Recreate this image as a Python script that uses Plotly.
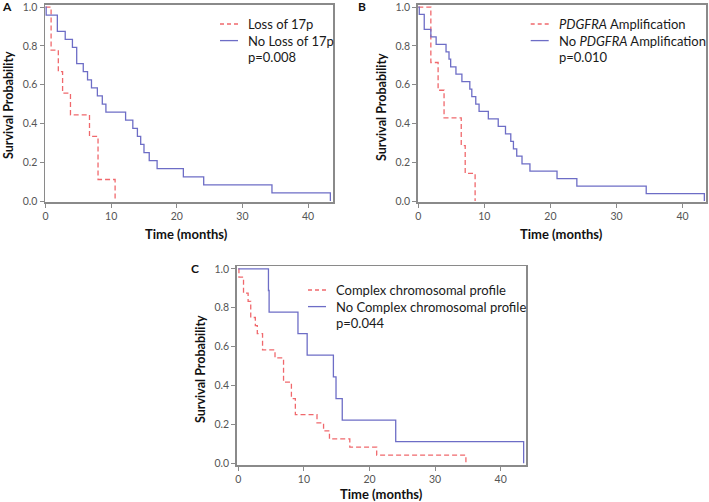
import plotly.graph_objects as go

# ---------------- data ----------------
# Panel A: Loss of 17p
a_loss_t = [0, 0.85, 1.95, 2.6, 3.8, 6.7, 8.0, 10.6]
a_loss_s = [1.0, 0.778, 0.667, 0.556, 0.444, 0.333, 0.111, 0.0]
a_noloss_t = [0, 0.1, 1.8, 3.0, 4.1, 4.75, 5.75, 6.4, 7.0, 7.9, 8.65, 9.2, 12.2, 13.3,
              14.0, 14.5, 15.0, 15.8, 17.0, 21.0, 24.1, 34.5, 43.4]
a_noloss_s = [1.0, 0.958, 0.875, 0.833, 0.792, 0.708, 0.667, 0.625, 0.583, 0.542, 0.5,
              0.458, 0.417, 0.375, 0.333, 0.292, 0.25, 0.208, 0.167, 0.125, 0.083, 0.042, 0.0]

# Panel B: PDGFRA amplification
b_amp_t = [0, 1.9, 3.0, 3.9, 6.5, 7.1, 8.6]
b_amp_s = [1.0, 0.714, 0.571, 0.429, 0.286, 0.143, 0.0]
b_noamp_t = [0, 0.15, 0.9, 1.9, 2.7, 4.2, 4.65, 4.9, 5.7, 6.6, 7.8, 8.1, 8.7, 9.2, 10.6,
             12.1, 13.2, 14.0, 14.4, 14.9, 15.7, 16.9, 21.0, 24.0, 34.5, 43.3]
b_noamp_s = [1.0, 0.962, 0.885, 0.846, 0.808, 0.769, 0.731, 0.692, 0.654, 0.615, 0.577,
             0.538, 0.5, 0.462, 0.423, 0.385, 0.346, 0.308, 0.269, 0.231, 0.192, 0.154,
             0.115, 0.077, 0.038, 0.0]

# Panel C: complex chromosomal profile
c_cx_t = [0, 0.1, 0.8, 1.5, 1.9, 2.6, 2.9, 3.7, 5.6, 6.9, 8.1, 8.7, 12.0, 13.0, 13.9,
          17.0, 21.1, 34.7]
c_cx_s = [1.0, 0.958, 0.875, 0.833, 0.75, 0.708, 0.667, 0.583, 0.542, 0.417, 0.333,
          0.25, 0.208, 0.167, 0.125, 0.083, 0.042, 0.0]
c_nocx_t = [0, 4.6, 4.7, 9.1, 10.5, 14.5, 14.9, 15.85, 24.0, 43.5]
c_nocx_s = [1.0, 0.889, 0.778, 0.667, 0.556, 0.444, 0.333, 0.222, 0.111, 0.0]

y_ticks = [0.0, 0.2, 0.4, 0.6, 0.8, 1.0]
x_ticks = [0, 10, 20, 30, 40]

names = {
    "A": ("Loss of 17p", "No Loss of 17p", "p=0.008"),
    "B": ("<i>PDGFRA</i> Amplification", "No <i>PDGFRA</i> Amplification", "p=0.010"),
    "C": ("Complex chromosomal profile", "No Complex chromosomal profile", "p=0.044"),
}

# ---------------- style ----------------
W, H = 709, 502
RED = "#f0686c"
BLUE = "#6d6dc6"
FRAME = "#8a8a8a"
TICKC = "#555555"
FONT = "Lato, 'Open Sans', sans-serif"
TXT = "#1a1a1a"


def px(x):
    return x / W


def py(y):
    return 1 - y / H


fig = go.Figure()

panels = [
    ("A", "", (a_loss_t, a_loss_s, a_noloss_t, a_noloss_s), (45, 333), (4.7, 202), [-0.08, 43.8], [-0.005, 1.012]),
    ("B", "2", (b_amp_t, b_amp_s, b_noamp_t, b_noamp_s), (417.7, 706), (4.7, 202), [-0.09, 43.55], [-0.005, 1.012]),
    ("C", "3", (c_cx_t, c_cx_s, c_nocx_t, c_nocx_s), (236.7, 526), (266, 465), [-0.24, 43.86], [-0.009, 1.015]),
]

# legend: text left x, first row y (px)
legend_pos = {"A": (246, 24), "B": (556.7, 24), "C": (334, 290)}
ROW = 16.6

for key, aid, (rt, rs, bt, bs), xd, yd, xr, yr in panels:
    n_red, n_blue, ptxt = names[key]
    fig.add_trace(go.Scatter(x=rt, y=rs, mode="lines",
                             line=dict(shape="hv", color=RED, width=1.3, dash="5px,3px"),
                             name=n_red, xaxis="x" + aid, yaxis="y" + aid, showlegend=False))
    fig.add_trace(go.Scatter(x=bt, y=bs, mode="lines", line=dict(shape="hv", color=BLUE, width=1.3),
                             name=n_blue, xaxis="x" + aid, yaxis="y" + aid, showlegend=False))
    axcommon = dict(showline=True, mirror=True, linecolor=FRAME, linewidth=1.5, ticks="outside",
                    ticklen=4, tickcolor=FRAME, tickwidth=1, showgrid=False, zeroline=False,
                    automargin=False, ticklabeloverflow="allow",
                    tickfont=dict(family=FONT, size=10.5, color=TICKC))
    fig.update_layout(**{
        "xaxis" + aid: dict(domain=[px(xd[0]), px(xd[1])], range=xr, tickvals=x_ticks,
                            anchor="y" + aid, **axcommon),
        "yaxis" + aid: dict(domain=[py(yd[1]), py(yd[0])], range=yr, tickvals=y_ticks,
                            tickformat=".1f", anchor="x" + aid, **axcommon),
    })

    # legend block (key samples + labels)
    lx, ly = legend_pos[key]
    for i, (lab, col, dash) in enumerate([(n_red, RED, "4px,3px"), (n_blue, BLUE, "solid")]):
        yy = ly + i * ROW
        fig.add_shape(type="line", xref="paper", yref="paper", x0=px(lx - 26), x1=px(lx - 8),
                      y0=py(yy), y1=py(yy), line=dict(color=col, width=1.3, dash=dash))
        fig.add_annotation(x=px(lx), y=py(yy), xref="paper", yref="paper", text=lab,
                           showarrow=False, xanchor="left", yanchor="middle",
                           font=dict(family=FONT, size=13, color=TXT))
    fig.add_annotation(x=px(lx), y=py(ly + 2 * ROW), xref="paper", yref="paper", text=ptxt,
                       showarrow=False, xanchor="left", yanchor="middle",
                       font=dict(family=FONT, size=13, color=TXT))

# panel letters and axis titles
letters = [("A", 7, 7), ("B", 362, 7), ("C", 195, 268)]
for t, x, y in letters:
    fig.add_annotation(x=px(x), y=py(y), xref="paper", yref="paper", text="<b>%s</b>" % t,
                       showarrow=False, xanchor="center", yanchor="middle",
                       font=dict(family=FONT, size=12, color="#111111"))

ytitles = [(8, 105), (381, 107), (200, 369)]
for x, y in ytitles:
    fig.add_annotation(x=px(x), y=py(y), xref="paper", yref="paper", text="<b>Survival Probability</b>",
                       textangle=-90, showarrow=False, xanchor="center", yanchor="middle",
                       font=dict(family=FONT, size=12.5, color="#111111"))
xtitles = [(187, 234), (561.5, 234), (381, 494)]
for x, y in xtitles:
    fig.add_annotation(x=px(x), y=py(y), xref="paper", yref="paper", text="<b>Time (months)</b>",
                       showarrow=False, xanchor="center", yanchor="middle",
                       font=dict(family=FONT, size=13, color="#111111"))

fig.update_layout(width=W, height=H, margin=dict(l=0, r=0, t=0, b=0, autoexpand=False),
                  paper_bgcolor="white", plot_bgcolor="white", showlegend=False)

fig.write_html("out.html", config={"displayModeBar": False, "staticPlot": True},
               post_script="document.body.style.margin='0';document.body.style.overflow='hidden';")
